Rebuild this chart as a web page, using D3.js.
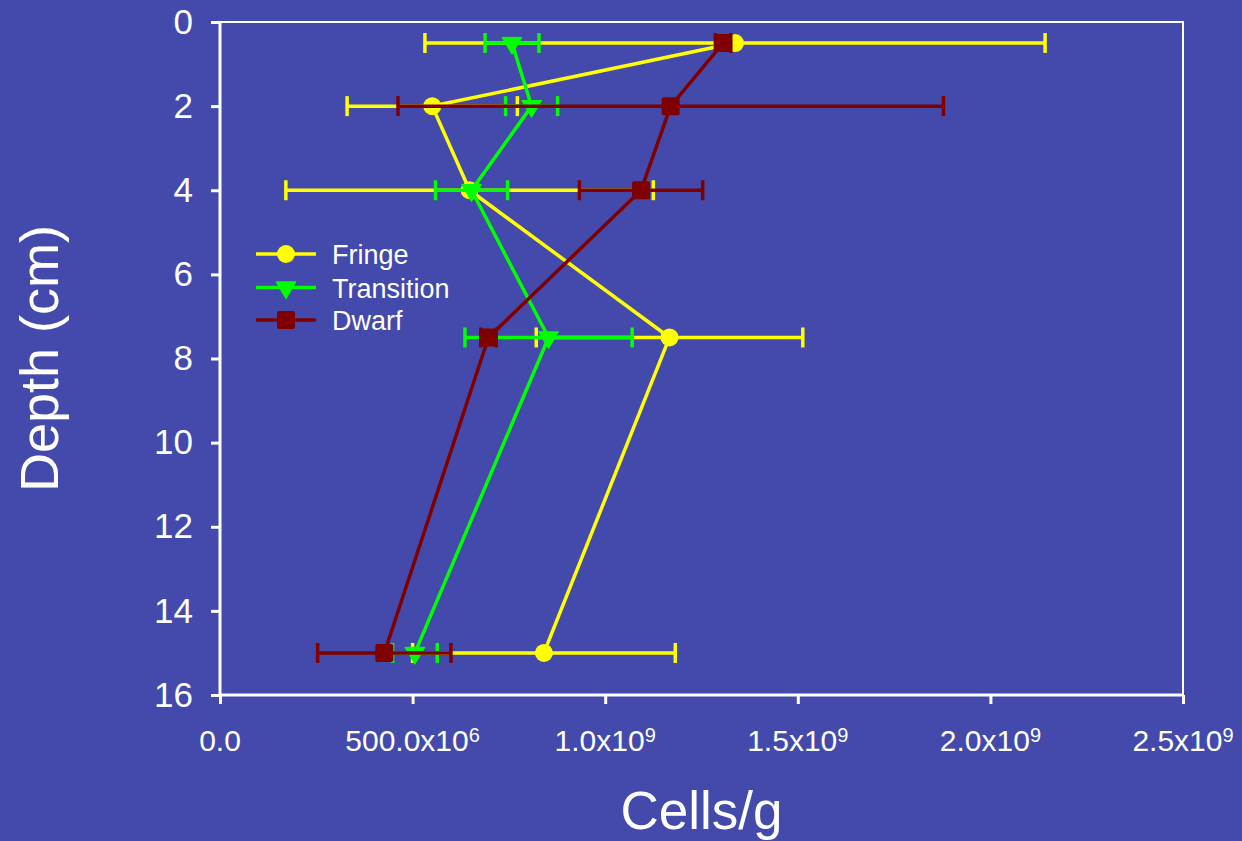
<!DOCTYPE html>
<html>
<head>
<meta charset="utf-8">
<script src="https://cdn.jsdelivr.net/npm/d3@7"></script>
<style>
  body { margin: 0; background: #434aab; }
  text { font-family: "Liberation Sans", Arial, sans-serif; fill: #fff; }
</style>
</head>
<body>
<div id="chart"></div>
<script>
// depths (cm) and cell counts (cells/g)
const depths = [0.5, 2, 4, 7.5, 15];

const fringe = [1.337e9, 0.551e9, 0.648e9, 1.167e9, 0.841e9];
const fringeErr = [0.805e9, 0.221e9, 0.477e9, 0.346e9, 0.341e9];

const transition = [0.758e9, 0.809e9, 0.653e9, 0.853e9, 0.506e9];
const transitionErr = [0.070e9, 0.0675e9, 0.0935e9, 0.217e9, 0.058e9];

const dwarf = [1.306e9, 1.170e9, 1.093e9, 0.697e9, 0.4265e9];
const dwarfErr = [0.02e9, 0.708e9, 0.160e9, 0.02e9, 0.173e9];

const seriesNames = ["Fringe", "Transition", "Dwarf"];
const seriesColors = ["#ffff00", "#00ff00", "#800000"];
const seriesShapes = ["circle", "triangle", "square"];

const xTickValues = [0, 0.5e9, 1e9, 1.5e9, 2e9, 2.5e9];
const xTickMantissa = ["0.0", "500.0", "1.0", "1.5", "2.0", "2.5"];
const xTickExp = [null, "6", "9", "9", "9", "9"];
const yTickValues = [0, 2, 4, 6, 8, 10, 12, 14, 16];

const width = 1242;
const height = 841;
const plot = { left: 220, right: 1183, top: 22, bottom: 695 };

const svg = d3.select("#chart")
  .append("svg")
  .attr("width", width)
  .attr("height", height);

svg.append("rect")
  .attr("width", width)
  .attr("height", height)
  .attr("fill", "#434aab");

const x = d3.scaleLinear().domain([0, 2.5e9]).range([plot.left, plot.right]);
const y = d3.scaleLinear().domain([0, 16]).range([plot.top, plot.bottom]);

// frame (top and right)
svg.append("path")
  .attr("d", `M${plot.left},${plot.top}H${plot.right}V${plot.bottom}`)
  .attr("fill", "none")
  .attr("stroke", "#fff")
  .attr("stroke-width", 2);

// x axis
const xAxis = svg.append("g")
  .attr("transform", `translate(0,${plot.bottom})`)
  .call(d3.axisBottom(x).tickValues(xTickValues).tickSize(9).tickFormat(""));
xAxis.select(".domain").attr("stroke", "#fff").attr("stroke-width", 3)
  .attr("d", `M${plot.left},0H${plot.right}`);
xAxis.selectAll(".tick line").attr("stroke", "#fff").attr("stroke-width", 3);

const xLabels = svg.append("g")
  .selectAll("text")
  .data(xTickValues)
  .join("text")
  .attr("x", d => x(d))
  .attr("y", 751)
  .attr("text-anchor", "middle")
  .style("font-size", "30px");
xLabels.each(function(d, i) {
  const t = d3.select(this);
  if (xTickExp[i] === null) {
    t.text(xTickMantissa[i]);
  } else {
    t.append("tspan").text(xTickMantissa[i] + "x10");
    t.append("tspan").attr("dy", -9).style("font-size", "20px").text(xTickExp[i]);
  }
});

// y axis
const yAxis = svg.append("g")
  .attr("transform", `translate(${plot.left},0)`)
  .call(d3.axisLeft(y).tickValues(yTickValues).tickSize(9).tickPadding(18));
yAxis.select(".domain").attr("stroke", "#fff").attr("stroke-width", 3)
  .attr("d", `M0,${plot.top}V${plot.bottom}`);
yAxis.selectAll(".tick line").attr("stroke", "#fff").attr("stroke-width", 3);
yAxis.selectAll(".tick text")
  .attr("fill", "#fff")
  .style("font-size", "35px")
  .style("font-family", '"Liberation Sans", Arial, sans-serif');

// axis titles
svg.append("text")
  .attr("x", (plot.left + plot.right) / 2)
  .attr("y", 829)
  .attr("text-anchor", "middle")
  .style("font-size", "53px")
  .text("Cells/g");

svg.append("text")
  .attr("transform", `translate(58,${(plot.top + plot.bottom) / 2}) rotate(-90)`)
  .attr("text-anchor", "middle")
  .style("font-size", "54px")
  .text("Depth (cm)");

// markers
function drawMarker(g, shape, color, cx, cy) {
  if (shape === "circle") {
    g.append("circle").attr("cx", cx).attr("cy", cy).attr("r", 9).attr("fill", color);
  } else if (shape === "square") {
    g.append("rect").attr("x", cx - 9).attr("y", cy - 9)
      .attr("width", 18).attr("height", 18).attr("rx", 2).attr("fill", color);
  } else {
    const h = 17, s = 20;
    g.append("path")
      .attr("d", `M${cx - s / 2},${cy - h / 3}L${cx + s / 2},${cy - h / 3}L${cx},${cy + 2 * h / 3}Z`)
      .attr("fill", color).attr("stroke", color).attr("stroke-width", 1).attr("stroke-linejoin", "round");
  }
}

const allValues = [fringe, transition, dwarf];
const allErrors = [fringeErr, transitionErr, dwarfErr];

const line = d3.line().x(d => x(d.v)).y(d => y(d.depth));

seriesNames.forEach((name, si) => {
  const color = seriesColors[si];
  const data = depths.map((depth, i) => ({ depth, v: allValues[si][i], e: allErrors[si][i] }));
  const g = svg.append("g").attr("class", "series");

  g.append("path")
    .datum(data)
    .attr("d", line)
    .attr("fill", "none")
    .attr("stroke", color)
    .attr("stroke-width", 3.5);

  const err = g.append("g").attr("stroke", color).attr("stroke-width", 3.5);
  data.forEach(d => {
    const x0 = x(d.v - d.e), x1 = x(d.v + d.e), yy = y(d.depth);
    err.append("line").attr("x1", x0).attr("x2", x1).attr("y1", yy).attr("y2", yy);
    err.append("line").attr("x1", x0).attr("x2", x0).attr("y1", yy - 10).attr("y2", yy + 10);
    err.append("line").attr("x1", x1).attr("x2", x1).attr("y1", yy - 10).attr("y2", yy + 10);
  });

  data.forEach(d => drawMarker(g, seriesShapes[si], color, x(d.v), y(d.depth)));
});

// legend
const legend = svg.append("g");
const legendRows = [254, 287.5, 320];
seriesNames.forEach((name, si) => {
  const ly = legendRows[si];
  legend.append("line")
    .attr("x1", 256).attr("x2", 316).attr("y1", ly).attr("y2", ly)
    .attr("stroke", seriesColors[si]).attr("stroke-width", 3.5);
  drawMarker(legend, seriesShapes[si], seriesColors[si], 286, ly);
  legend.append("text")
    .attr("x", 332)
    .attr("y", ly + 10)
    .style("font-size", "27px")
    .text(name);
});
</script>
</body>
</html>
